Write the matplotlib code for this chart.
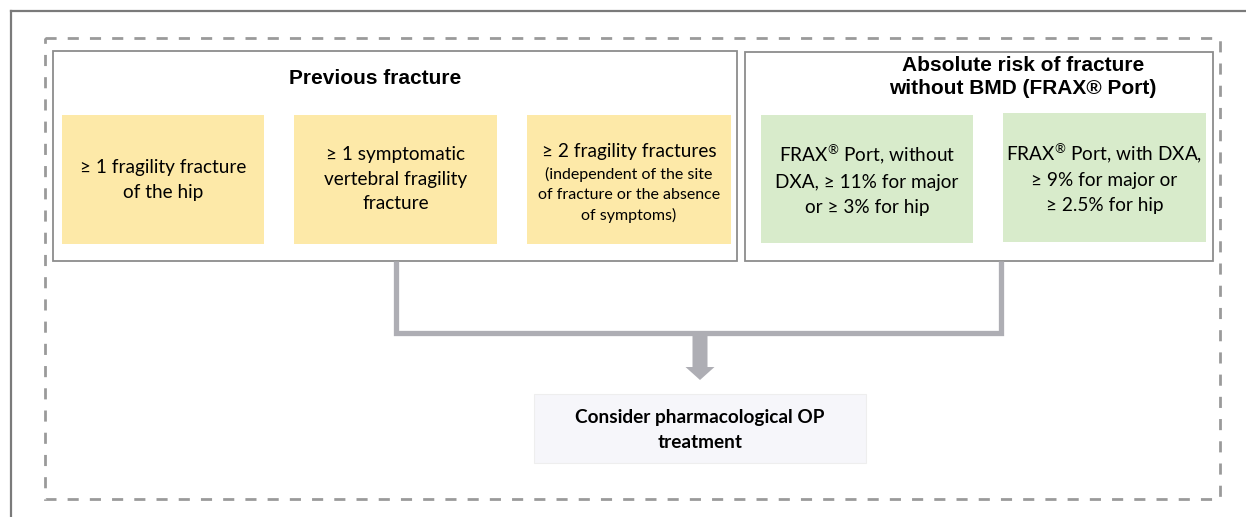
import matplotlib
matplotlib.use("Agg")
import matplotlib.pyplot as plt
from matplotlib.patches import Rectangle, FancyArrow

plt.rcParams['lines.scale_dashes'] = False
plt.rcParams['mathtext.fontset'] = 'custom'
plt.rcParams['mathtext.rm'] = 'Lato'
plt.rcParams['mathtext.it'] = 'Lato:italic'
plt.rcParams['mathtext.bf'] = 'Lato:bold'

# ---- content ----
heading_left = "Previous fracture"
heading_right = "Absolute risk of fracture\nwithout BMD (FRAX® Port)"
fracture_criteria = [
    "≥ 1 fragility fracture\nof the hip",
    "≥ 1 symptomatic\nvertebral fragility\nfracture",
    "≥ 2 fragility fractures",
]
fracture_note = "(independent of the site\nof fracture or the absence\nof symptoms)"
frax_criteria = [
    "FRAX$^{\\circledR}$ Port, without\nDXA, ≥ 11% for major\nor ≥ 3% for hip",
    "FRAX$^{\\circledR}$ Port, with DXA,\n≥ 9% for major or\n≥ 2.5% for hip",
]
outcome = "Consider pharmacological OP\ntreatment"

# ---- style ----
YELLOW = "#fde9a8"
GREEN = "#d8ebcb"
LINE = "#aeaeb4"
BOX_EDGE = "#8c8c8c"
FS = 13.7
LS = 1.55

W, H = 1246, 517
fig = plt.figure(figsize=(W / 100, H / 100), dpi=100)
ax = fig.add_axes([0, 0, 1, 1])
ax.set_xlim(0, W)
ax.set_ylim(H, 0)
ax.axis("off")

# outer solid frame (right/bottom cut off)
ax.plot([11, 11], [H + 5, 11], color="#7a7a7a", lw=1.6)
ax.plot([11, W + 5], [11, 11], color="#7a7a7a", lw=1.6)

# dashed frame
ax.add_patch(Rectangle((45, 38), 1220 - 45, 499 - 38, fill=False,
                       edgecolor="#9a9a9a", lw=2.0, linestyle=(0, (8, 8))))

# group boxes
ax.add_patch(Rectangle((53, 51), 737 - 53, 261 - 51, fill=False,
                       edgecolor=BOX_EDGE, lw=1.3))
ax.add_patch(Rectangle((745, 52), 1213 - 745, 261 - 52, fill=False,
                       edgecolor=BOX_EDGE, lw=1.3))

ax.text(375, 78, heading_left, ha="center", va="center",
        fontfamily="Liberation Sans", fontweight="bold", fontsize=15)
ax.text(1023, 77, heading_right, ha="center", va="center",
        fontfamily="Liberation Sans", fontweight="bold", fontsize=15,
        linespacing=1.32)

# yellow boxes
ybox = [(62, 264), (294, 497), (527, 731)]
for (x0, x1), txt in zip(ybox, fracture_criteria):
    ax.add_patch(Rectangle((x0, 115), x1 - x0, 244 - 115, facecolor=YELLOW,
                           edgecolor="none"))
ax.text(163, 180, fracture_criteria[0], ha="center", va="center",
        fontfamily="Lato", fontsize=FS, linespacing=LS)
ax.text(395.5, 179, fracture_criteria[1], ha="center", va="center",
        fontfamily="Lato", fontsize=FS, linespacing=LS)
ax.text(629, 152, fracture_criteria[2], ha="center", va="center",
        fontfamily="Lato", fontsize=FS)
ax.text(629, 195, fracture_note, ha="center", va="center",
        fontfamily="Lato", fontsize=11.5, linespacing=1.5)

# green boxes
gbox = [(761, 973, 115, 243), (1003, 1206, 113, 242)]
for (x0, x1, y0, y1), txt in zip(gbox, frax_criteria):
    ax.add_patch(Rectangle((x0, y0), x1 - x0, y1 - y0, facecolor=GREEN,
                           edgecolor="none"))
    ax.text((x0 + x1) / 2, (y0 + y1) / 2, txt, ha="center", va="center",
            fontfamily="Lato", fontsize=FS, linespacing=LS)

# connector
ax.plot([396, 396, 1001, 1001], [261, 333, 333, 261], color=LINE, lw=3.8,
        solid_joinstyle="miter", solid_capstyle="butt")
ax.add_patch(FancyArrow(700, 333, 0, 47, width=15, head_width=29,
                        head_length=13, length_includes_head=True,
                        color=LINE, lw=0))

# outcome box
ax.add_patch(Rectangle((534, 394), 866 - 534, 463 - 394, facecolor="#f6f6fa",
                       edgecolor="#eeeeee", lw=0.8))
ax.text(700, 430, outcome, ha="center", va="center", fontfamily="Lato",
        fontweight="bold", fontsize=FS, linespacing=LS)

fig.savefig("out.png", dpi=100)
